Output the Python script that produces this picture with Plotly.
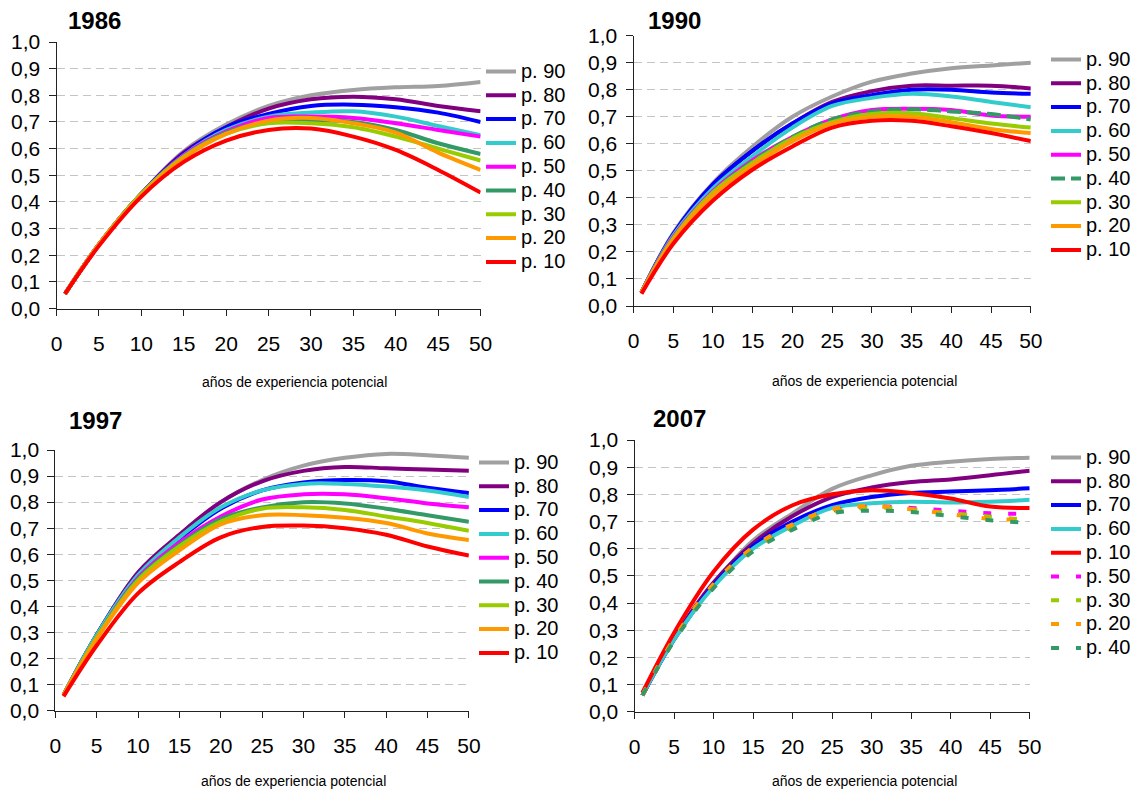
import plotly.graph_objects as go

W, H = 1139, 794

# ---------------- data ----------------
x_exp = [1, 5, 10, 15, 20, 25, 30, 35, 40, 45, 50]
x_tick_vals = [0, 5, 10, 15, 20, 25, 30, 35, 40, 45, 50]
y_tick_vals = [0.0, 0.1, 0.2, 0.3, 0.4, 0.5, 0.6, 0.7, 0.8, 0.9, 1.0]
x_title = "años de experiencia potencial"

# 1986
y86_p90 = [0.055, 0.24, 0.43, 0.59, 0.69, 0.76, 0.80, 0.82, 0.83, 0.835, 0.85]
y86_p80 = [0.055, 0.24, 0.43, 0.585, 0.68, 0.75, 0.785, 0.795, 0.785, 0.76, 0.74]
y86_p70 = [0.055, 0.24, 0.43, 0.58, 0.68, 0.73, 0.76, 0.765, 0.755, 0.735, 0.70]
y86_p60 = [0.055, 0.24, 0.43, 0.575, 0.67, 0.72, 0.735, 0.74, 0.72, 0.685, 0.65]
y86_p50 = [0.055, 0.24, 0.43, 0.575, 0.665, 0.715, 0.72, 0.715, 0.695, 0.67, 0.645]
y86_p40 = [0.055, 0.24, 0.43, 0.57, 0.66, 0.70, 0.705, 0.70, 0.67, 0.62, 0.58]
y86_p30 = [0.055, 0.24, 0.43, 0.57, 0.655, 0.695, 0.695, 0.68, 0.645, 0.60, 0.555]
y86_p20 = [0.055, 0.24, 0.425, 0.565, 0.655, 0.705, 0.715, 0.695, 0.66, 0.585, 0.52]
y86_p10 = [0.055, 0.235, 0.42, 0.55, 0.63, 0.67, 0.675, 0.645, 0.595, 0.52, 0.435]

# 1990
y90_p90 = [0.05, 0.27, 0.455, 0.59, 0.70, 0.775, 0.83, 0.86, 0.88, 0.89, 0.90]
y90_p80 = [0.05, 0.265, 0.45, 0.575, 0.675, 0.755, 0.795, 0.815, 0.815, 0.815, 0.805]
y90_p70 = [0.05, 0.265, 0.45, 0.575, 0.675, 0.75, 0.78, 0.80, 0.80, 0.79, 0.785]
y90_p60 = [0.05, 0.26, 0.435, 0.555, 0.66, 0.74, 0.77, 0.785, 0.775, 0.755, 0.735]
y90_p50 = [0.05, 0.255, 0.425, 0.54, 0.625, 0.69, 0.725, 0.73, 0.725, 0.705, 0.70]
y90_p40 = [0.05, 0.25, 0.42, 0.535, 0.625, 0.69, 0.72, 0.728, 0.72, 0.71, 0.69]
y90_p30 = [0.05, 0.25, 0.42, 0.53, 0.62, 0.68, 0.71, 0.713, 0.695, 0.675, 0.66]
y90_p20 = [0.05, 0.245, 0.41, 0.52, 0.61, 0.675, 0.70, 0.70, 0.68, 0.655, 0.64]
y90_p10 = [0.045, 0.23, 0.39, 0.505, 0.59, 0.66, 0.685, 0.685, 0.665, 0.64, 0.61]

# 1997
y97_p90 = [0.06, 0.29, 0.53, 0.675, 0.80, 0.885, 0.94, 0.97, 0.985, 0.98, 0.97]
y97_p80 = [0.06, 0.29, 0.53, 0.675, 0.80, 0.88, 0.92, 0.935, 0.93, 0.925, 0.92]
y97_p70 = [0.06, 0.29, 0.52, 0.66, 0.775, 0.845, 0.875, 0.885, 0.88, 0.855, 0.835]
y97_p60 = [0.06, 0.29, 0.52, 0.665, 0.78, 0.845, 0.87, 0.87, 0.86, 0.845, 0.82]
y97_p50 = [0.06, 0.28, 0.51, 0.645, 0.745, 0.81, 0.83, 0.83, 0.815, 0.795, 0.78]
y97_p40 = [0.06, 0.28, 0.505, 0.635, 0.735, 0.78, 0.80, 0.795, 0.775, 0.75, 0.725]
y97_p30 = [0.06, 0.28, 0.50, 0.63, 0.725, 0.775, 0.78, 0.77, 0.745, 0.72, 0.69]
y97_p20 = [0.06, 0.275, 0.49, 0.615, 0.715, 0.75, 0.75, 0.74, 0.72, 0.68, 0.655]
y97_p10 = [0.055, 0.25, 0.45, 0.57, 0.665, 0.705, 0.71, 0.70, 0.675, 0.63, 0.595]

# 2007
y07_p90 = [0.06, 0.27, 0.47, 0.63, 0.73, 0.82, 0.87, 0.905, 0.92, 0.93, 0.935]
y07_p80 = [0.06, 0.27, 0.475, 0.62, 0.72, 0.79, 0.825, 0.845, 0.855, 0.87, 0.887]
y07_p70 = [0.06, 0.265, 0.465, 0.61, 0.70, 0.76, 0.79, 0.805, 0.81, 0.815, 0.822]
y07_p60 = [0.06, 0.265, 0.46, 0.60, 0.685, 0.75, 0.767, 0.773, 0.77, 0.773, 0.78]
y07_p10 = [0.07, 0.29, 0.515, 0.67, 0.76, 0.80, 0.815, 0.805, 0.785, 0.755, 0.75]
y07_p50 = [0.06, 0.265, 0.465, 0.60, 0.68, 0.74, 0.755, 0.75, 0.74, 0.73, 0.728]
y07_p30 = [0.06, 0.265, 0.465, 0.595, 0.675, 0.735, 0.75, 0.745, 0.73, 0.718, 0.705]
y07_p20 = [0.06, 0.268, 0.47, 0.605, 0.69, 0.745, 0.757, 0.745, 0.727, 0.71, 0.707]
y07_p40 = [0.06, 0.26, 0.455, 0.59, 0.67, 0.73, 0.74, 0.735, 0.72, 0.705, 0.695]

COL = {
    "p. 90": "#A0A0A0", "p. 80": "#800080", "p. 70": "#0000FF",
    "p. 60": "#33CCCC", "p. 50": "#FF00FF", "p. 40": "#339966",
    "p. 30": "#99CC00", "p. 20": "#FF9900", "p. 10": "#FF0000",
}

DOT = "8px,17px"
panels = [
    dict(year="1986", series=[("p. 90", y86_p90, "solid"), ("p. 80", y86_p80, "solid"),
                              ("p. 70", y86_p70, "solid"), ("p. 60", y86_p60, "solid"),
                              ("p. 50", y86_p50, "solid"), ("p. 40", y86_p40, "solid"),
                              ("p. 30", y86_p30, "solid"), ("p. 20", y86_p20, "solid"),
                              ("p. 10", y86_p10, "solid")],
         xd=(56.5, 480.6), yd=(42, 308.5), title=(94.5, 20), xt=(294.5, 382), leg=(481, 54.6)),
    dict(year="1990", series=[("p. 90", y90_p90, "solid"), ("p. 80", y90_p80, "solid"),
                              ("p. 70", y90_p70, "solid"), ("p. 60", y90_p60, "solid"),
                              ("p. 50", y90_p50, "solid"), ("p. 40", y90_p40, "14px,6px"),
                              ("p. 30", y90_p30, "solid"), ("p. 20", y90_p20, "solid"),
                              ("p. 10", y90_p10, "solid")],
         xd=(633.5, 1030.8), yd=(35.7, 306), title=(674, 20), xt=(864.5, 381), leg=(1046, 42.6)),
    dict(year="1997", series=[("p. 90", y97_p90, "solid"), ("p. 80", y97_p80, "solid"),
                              ("p. 70", y97_p70, "solid"), ("p. 60", y97_p60, "solid"),
                              ("p. 50", y97_p50, "solid"), ("p. 40", y97_p40, "solid"),
                              ("p. 30", y97_p30, "solid"), ("p. 20", y97_p20, "solid"),
                              ("p. 10", y97_p10, "solid")],
         xd=(55.3, 468.9), yd=(450, 710.7), title=(95.5, 420), xt=(294, 781), leg=(474, 445.6)),
    dict(year="2007", series=[("p. 90", y07_p90, "solid"), ("p. 80", y07_p80, "solid"),
                              ("p. 70", y07_p70, "solid"), ("p. 60", y07_p60, "solid"),
                              ("p. 10", y07_p10, "solid"), ("p. 50", y07_p50, DOT),
                              ("p. 30", y07_p30, DOT), ("p. 20", y07_p20, DOT),
                              ("p. 40", y07_p40, DOT)],
         xd=(634.5, 1029.7), yd=(440, 711.7), title=(680, 418), xt=(864, 781), leg=(1046, 440.6)),
]

FONT = "Liberation Sans, Arial, sans-serif"
fig = go.Figure()
layout = dict(
    width=W, height=H, margin=dict(l=0, r=0, t=0, b=0, autoexpand=False),
    paper_bgcolor="white", plot_bgcolor="white",
    font=dict(family=FONT, color="black"),
    separators=",.", annotations=[],
)

for i, p in enumerate(panels, start=1):
    sfx = "" if i == 1 else str(i)
    legname = "legend" if i == 1 else f"legend{i}"
    for name, ys, dash in p["series"]:
        fig.add_trace(go.Scatter(
            x=x_exp, y=ys, mode="lines", name=f'<span style="font-size:20px">{name}</span>',
            line=dict(color=COL[name], width=4, dash=dash, shape="spline", smoothing=1.0),
            xaxis=f"x{sfx}", yaxis=f"y{sfx}", legend=legname, showlegend=True,
        ))
    x0, x1 = p["xd"]
    yt, yb = p["yd"]
    layout[f"xaxis{sfx}"] = dict(
        domain=[x0 / W, x1 / W], range=[0, 50], anchor=f"y{sfx}", automargin=False,
        tickvals=x_tick_vals, ticks="outside", ticklen=6, tickcolor="#222222",
        showline=True, linecolor="#222222", linewidth=1, showgrid=False, zeroline=False,
        tickfont=dict(size=21, family=FONT, color="black"), ticklabelstandoff=10,
    )
    layout[f"yaxis{sfx}"] = dict(
        domain=[1 - yb / H, 1 - yt / H], range=[0, 1.0], anchor=f"x{sfx}", automargin=False,
        tickvals=y_tick_vals, tickformat=".1f", ticks="outside", ticklen=7,
        tickcolor="#222222", showline=True, linecolor="#222222", linewidth=1,
        showgrid=True, gridcolor="#C4C4C4", griddash="8px,5px", gridwidth=1,
        zeroline=False, tickfont=dict(size=21, family=FONT, color="black"),
        ticklabelstandoff=4,
    )
    lx, ly = p["leg"]
    layout[legname] = dict(
        x=lx / W, y=1 - ly / H, xanchor="left", yanchor="top",
        bgcolor="rgba(0,0,0,0)", borderwidth=0, tracegroupgap=0,
        font=dict(size=16, family=FONT, color="black"), itemwidth=30,
    )
    tx, ty = p["title"]
    layout["annotations"].append(dict(
        text=f"<b>{p['year']}</b>", x=tx / W, y=1 - ty / H, xref="paper", yref="paper",
        xanchor="center", yanchor="middle", showarrow=False,
        font=dict(size=24, family=FONT, color="black"),
    ))
    ax, ay = p["xt"]
    layout["annotations"].append(dict(
        text=x_title, x=ax / W, y=1 - ay / H, xref="paper", yref="paper",
        xanchor="center", yanchor="middle", showarrow=False,
        font=dict(size=14, family=FONT, color="black"),
    ))

fig.update_layout(**layout)
fig.write_html(
    "out.html",
    config={"displayModeBar": False},
    post_script="document.body.style.margin='0px';document.body.style.overflow='hidden';",
)
